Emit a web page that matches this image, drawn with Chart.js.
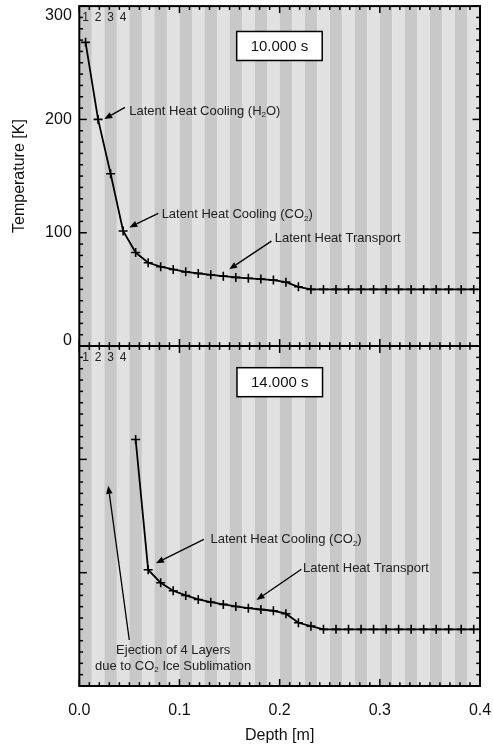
<!DOCTYPE html>
<html><head><meta charset="utf-8">
<script src="https://cdn.jsdelivr.net/npm/chart.js@4.4.0/dist/chart.umd.min.js"></script>
<style>html,body{margin:0;padding:0;background:#fff}#wrap{width:493px;height:748px;position:relative}</style>
</head><body><div id="wrap"><canvas id="c"></canvas></div>
<script>
// ---- data ----
const layerDepth = [0.00625, 0.01875, 0.03125, 0.04375, 0.05625, 0.06875, 0.08125, 0.09375,
  0.10625, 0.11875, 0.13125, 0.14375, 0.15625, 0.16875, 0.18125, 0.19375,
  0.20625, 0.21875, 0.23125, 0.24375, 0.25625, 0.26875, 0.28125, 0.29375,
  0.30625, 0.31875, 0.33125, 0.34375, 0.35625, 0.36875, 0.38125, 0.39375];
const temp10000 = [268, 200, 152, 101.5, 82.5, 73.5, 70, 67.6,
  65.5, 64.1, 62.9, 61.7, 60.6, 59.8, 59.1, 58.2,
  56.4, 52.3, 50, 50, 50, 50, 50, 50,
  50, 50, 50, 50, 50, 50, 50, 50];
const temp14000 = [null, null, null, null, 217.5, 102.6, 91.1, 84.0,
  79.9, 76.4, 74.0, 72.0, 70.2, 68.7, 67.5, 66.4,
  63.8, 55.8, 52.8, 50, 50, 50, 50, 50,
  50, 50, 50, 50, 50, 50, 50, 50];
const layerLabels = ['1', '2', '3', '4'];
const yTickLabels = [0, 100, 200, 300];
const xTickLabels = [0.0, 0.1, 0.2, 0.3, 0.4];
const timeLabels = [
  {panel: 'yTop', text: '10.000 s', at: [0.1998, 264.8]},
  {panel: 'yBot', text: '14.000 s', at: [0.2001, 268.1]}
];
const notes = [
  {panel: 'yTop', text: 'Latent Heat Cooling (H|2|O)', at: [0.0499, 208.2], tail: [0.0456, 210.6], head: [0.0249, 200.3]},
  {panel: 'yTop', text: 'Latent Heat Cooling (CO|2|)', at: [0.0822, 117.1], tail: [0.0788, 117.1], head: [0.0499, 104.7]},
  {panel: 'yTop', text: 'Latent Heat Transport', at: [0.1951, 95.6], tail: [0.1918, 92.6], head: [0.1496, 67.7]},
  {panel: 'yBot', text: 'Latent Heat Cooling (CO|2|)', at: [0.1310, 130.2], tail: [0.1243, 129.4], head: [0.0765, 108.3]},
  {panel: 'yBot', text: 'Latent Heat Transport', at: [0.2233, 104.7], tail: [0.2217, 103], head: [0.1769, 75.9]},
  {panel: 'yBot', text: 'Ejection of 4 Layers', at: [0.0937, 32.6], align: 'center'},
  {panel: 'yBot', text: 'due to CO|2| Ice Sublimation', at: [0.0937, 18.5], align: 'center', tail: [0.0499, 40.6], head: [0.0289, 176.7]}
];

// ---- styling ----
const FONT = '"Liberation Sans", Arial, Helvetica, sans-serif';
const DARK = '#c8c8c8', LIGHT = '#e1e1e1', INK = '#111';

function toPts(arr) {
  const out = [];
  arr.forEach((v, i) => { if (v !== null) out.push({x: layerDepth[i], y: v}); });
  return out;
}

function richWidth(ctx, text, size, subSize) {
  let w = 0;
  text.split('|').forEach((p, i) => {
    ctx.font = (i % 2 ? subSize : size) + 'px ' + FONT;
    w += ctx.measureText(p).width;
  });
  return w;
}
function drawRich(ctx, text, x, y, align, size) {
  const subSize = 8;
  const w = richWidth(ctx, text, size, subSize);
  let cx = align === 'center' ? x - w / 2 : x;
  ctx.textAlign = 'left';
  ctx.textBaseline = 'alphabetic';
  const base = y + size * 0.36;
  text.split('|').forEach((p, i) => {
    const sub = i % 2 === 1;
    ctx.font = (sub ? subSize : size) + 'px ' + FONT;
    ctx.fillText(p, cx, sub ? base + 2.5 : base);
    cx += ctx.measureText(p).width;
  });
}
function arrow(ctx, x0, y0, x1, y1) {
  const ang = Math.atan2(y1 - y0, x1 - x0);
  const L = 8, W = 3.2;
  const bx = x1 - L * Math.cos(ang), by = y1 - L * Math.sin(ang);
  ctx.beginPath();
  ctx.moveTo(x0, y0); ctx.lineTo(bx, by);
  ctx.stroke();
  ctx.beginPath();
  ctx.moveTo(x1, y1);
  ctx.lineTo(bx + W * Math.sin(ang), by - W * Math.cos(ang));
  ctx.lineTo(bx - W * Math.sin(ang), by + W * Math.cos(ang));
  ctx.closePath();
  ctx.fill();
}
function seg(ctx, x0, y0, x1, y1) {
  ctx.beginPath(); ctx.moveTo(x0, y0); ctx.lineTo(x1, y1); ctx.stroke();
}

const decor = {
  id: 'decor',
  beforeDatasetsDraw(chart) {
    const {ctx, chartArea: a, scales: {x}} = chart;
    ctx.save();
    const edges = [x.min];
    for (let i = 1; i < layerDepth.length; i++) edges.push((layerDepth[i - 1] + layerDepth[i]) / 2);
    edges.push(x.max);
    for (let i = 0; i < layerDepth.length; i++) {
      const x0 = x.getPixelForValue(edges[i]), x1 = x.getPixelForValue(edges[i + 1]);
      ctx.fillStyle = i % 2 === 0 ? DARK : LIGHT;
      ctx.fillRect(x0, a.top, x1 - x0, a.bottom - a.top);
    }
    ctx.restore();
  },
  afterDatasetsDraw(chart) {
    const {ctx, chartArea: a, scales} = chart;
    const x = scales.x, yT = scales.yTop, yB = scales.yBot;
    const mid = yT.bottom;
    ctx.save();
    ctx.strokeStyle = '#000';
    ctx.fillStyle = INK;

    // ticks
    ctx.lineWidth = 1.5;
    [yT, yB].forEach(s => {
      for (let k = 0; k <= 30; k++) {
        const yy = s.getPixelForValue(k * 10);
        const len = k % 10 === 0 ? 7.5 : 3.8;
        seg(ctx, a.left, yy, a.left + len, yy);
        seg(ctx, a.right, yy, a.right - len, yy);
      }
    });
    for (let k = 0; k <= 40; k++) {
      const xx = x.getPixelForValue(k * 0.01);
      const len = k % 10 === 0 ? 7 : 3.8;
      seg(ctx, xx, a.top, xx, a.top + len);
      seg(ctx, xx, mid - len, xx, mid + len);
      seg(ctx, xx, a.bottom, xx, a.bottom - len);
    }

    // frame
    ctx.lineWidth = 2;
    ctx.strokeRect(a.left, a.top, a.right - a.left, a.bottom - a.top);
    seg(ctx, a.left, mid, a.right, mid);

    // y tick labels (top panel)
    ctx.font = '16px ' + FONT;
    ctx.textAlign = 'right';
    ctx.textBaseline = 'middle';
    yTickLabels.forEach(v => {
      let yy = yT.getPixelForValue(v);
      yy = Math.min(Math.max(yy, yT.top + 9), yT.bottom - 5.5);
      ctx.fillText(String(v), a.left - 7.5, yy);
    });
    // x tick labels
    ctx.textAlign = 'center';
    xTickLabels.forEach(v => {
      ctx.fillText(v.toFixed(1), x.getPixelForValue(v), a.bottom + 25);
    });
    // axis titles
    ctx.fillText('Depth [m]', (a.left + a.right) / 2, a.bottom + 50);
    ctx.save();
    ctx.translate(20, (yT.top + yT.bottom) / 2);
    ctx.rotate(-Math.PI / 2);
    ctx.fillText('Temperature [K]', 0, 0);
    ctx.restore();

    // layer numbers
    ctx.font = '12px ' + FONT;
    ctx.fillStyle = '#222';
    [yT, yB].forEach(s => {
      layerLabels.forEach((t, i) => {
        ctx.fillText(t, x.getPixelForValue(layerDepth[i]), s.getPixelForValue(290));
      });
    });

    // time boxes
    timeLabels.forEach(b => {
      const s = scales[b.panel];
      const cx = x.getPixelForValue(b.at[0]), cy = s.getPixelForValue(b.at[1]);
      ctx.font = '15px ' + FONT;
      const w = ctx.measureText(b.text).width + 28, h = 29;
      ctx.fillStyle = '#fff';
      ctx.fillRect(cx - w / 2, cy - h / 2, w, h);
      ctx.lineWidth = 1.5;
      ctx.strokeRect(cx - w / 2, cy - h / 2, w, h);
      ctx.fillStyle = INK;
      ctx.textAlign = 'center';
      ctx.textBaseline = 'middle';
      ctx.fillText(b.text, cx, cy + 0.5);
    });

    // annotations
    notes.forEach(n => {
      const s = scales[n.panel];
      ctx.fillStyle = '#222';
      drawRich(ctx, n.text, x.getPixelForValue(n.at[0]), s.getPixelForValue(n.at[1]), n.align || 'left', 13);
      if (n.tail) {
        ctx.strokeStyle = '#000';
        ctx.fillStyle = '#000';
        ctx.lineWidth = 1.3;
        arrow(ctx, x.getPixelForValue(n.tail[0]), s.getPixelForValue(n.tail[1]),
          x.getPixelForValue(n.head[0]), s.getPixelForValue(n.head[1]));
      }
    });
    ctx.restore();
  }
};

const lineStyle = {
  borderColor: '#000', borderWidth: 1.8, tension: 0,
  pointStyle: 'cross', pointRadius: 4.5, pointBorderWidth: 1.6,
  pointBorderColor: '#000', pointBackgroundColor: '#000', fill: false
};
const hiddenAxis = {
  display: true, grid: {display: false}, border: {display: false},
  ticks: {display: false}, title: {display: false}
};

new Chart(document.getElementById('c'), {
  type: 'line',
  data: {
    datasets: [
      Object.assign({label: '14.000 s', data: toPts(temp14000), yAxisID: 'yBot'}, lineStyle),
      Object.assign({label: '10.000 s', data: toPts(temp10000), yAxisID: 'yTop'}, lineStyle)
    ]
  },
  options: {
    responsive: true, maintainAspectRatio: false, animation: false, events: [],
    layout: {padding: {top: 6, right: 13, left: 0, bottom: 0}},
    plugins: {legend: {display: false}, tooltip: {enabled: false}},
    scales: {
      x: Object.assign({}, hiddenAxis, {type: 'linear', min: 0, max: 0.4, position: 'bottom',
        afterFit: s => { s.height = 62; }}),
      yBot: Object.assign({}, hiddenAxis, {type: 'linear', min: 0, max: 300, position: 'left',
        stack: 'T', stackWeight: 1, afterFit: s => { s.width = 79.3; }}),
      yTop: Object.assign({}, hiddenAxis, {type: 'linear', min: 0, max: 300, position: 'left',
        stack: 'T', stackWeight: 1, afterFit: s => { s.width = 79.3; }})
    }
  },
  plugins: [decor]
});
</script>
</body></html>
